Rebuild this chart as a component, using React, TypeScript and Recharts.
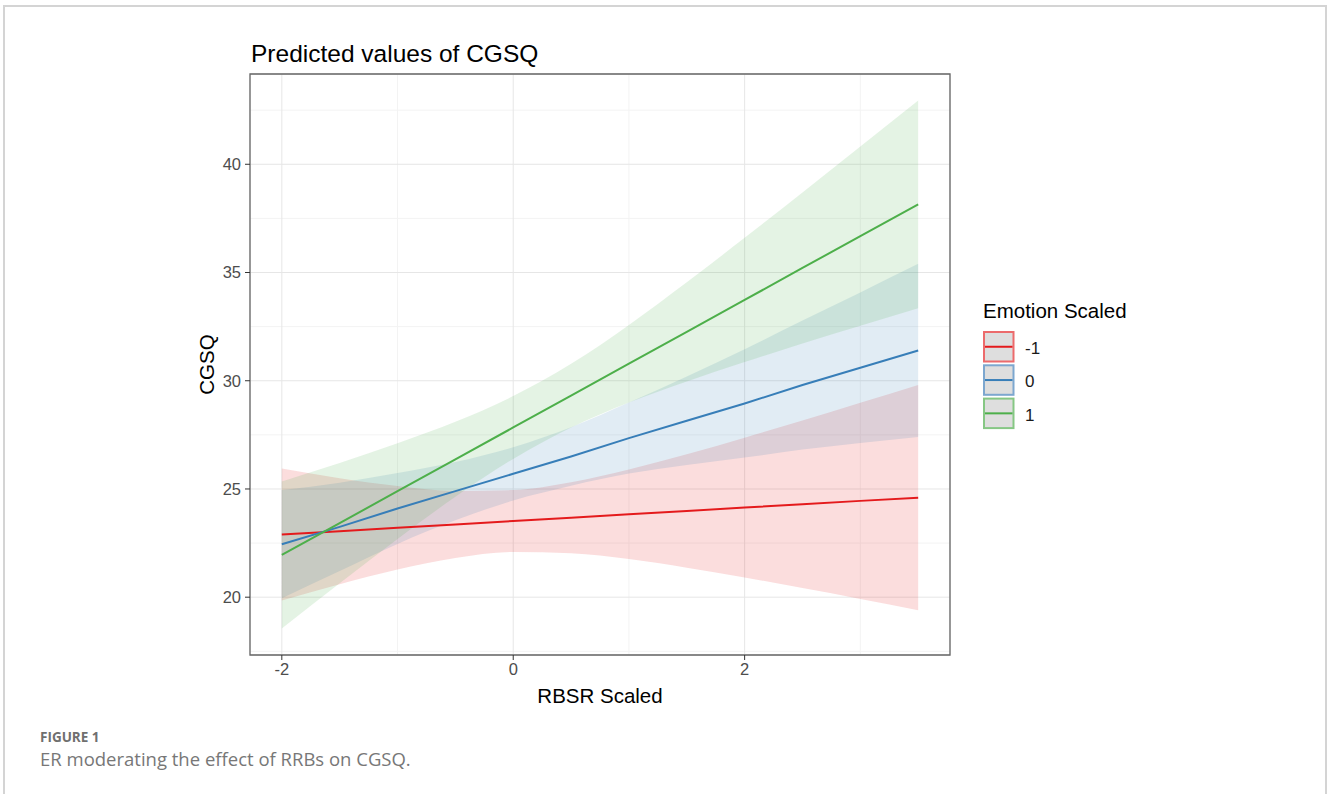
import {
  Area,
  CartesianGrid,
  ComposedChart,
  Line,
  ReferenceArea,
  XAxis,
  YAxis,
} from "recharts";

const rbsr = [-2, -1.5, -1, -0.5, 0, 0.5, 1, 1.5, 2, 2.5, 3, 3.5];

// Emotion Scaled = -1
const negFit = [22.9, 23.05, 23.21, 23.36, 23.52, 23.67, 23.83, 23.98, 24.14, 24.29, 24.45, 24.6];
const negLow = [19.85, 20.6, 21.28, 21.81, 22.09, 22.03, 21.76, 21.36, 20.91, 20.42, 19.92, 19.4];
const negHigh = [25.95, 25.5, 25.14, 24.91, 24.95, 25.31, 25.9, 26.6, 27.37, 28.16, 28.98, 29.8];

// Emotion Scaled = 0
const zeroFit = [22.45, 23.25, 24.1, 24.9, 25.7, 26.5, 27.35, 28.15, 28.95, 29.8, 30.6, 31.4];
const zeroLow = [19.95, 21.21, 22.46, 23.55, 24.47, 25.15, 25.71, 26.11, 26.45, 26.82, 27.12, 27.4];
const zeroHigh = [24.95, 25.29, 25.74, 26.25, 26.93, 27.85, 28.99, 30.19, 31.45, 32.78, 34.08, 35.4];

// Emotion Scaled = 1
const posFit = [21.95, 23.42, 24.9, 26.37, 27.84, 29.31, 30.79, 32.26, 33.73, 35.21, 36.68, 38.15];
const posLow = [18.55, 20.64, 22.69, 24.64, 26.39, 27.84, 29.0, 29.97, 30.86, 31.72, 32.54, 33.35];
const posHigh = [25.35, 26.2, 27.11, 28.1, 29.29, 30.78, 32.58, 34.55, 36.6, 38.7, 40.82, 42.95];

const xTicks = [-2, 0, 2];
const xMinor = [-1, 1, 3];
const yTicks = [20, 25, 30, 35, 40];
const yMinor = [17.5, 22.5, 27.5, 32.5, 37.5, 42.5];
const xDomain = [-2.275, 3.775];
const yDomain = [17.33, 44.17];

const legendLabels = ["-1", "0", "1"];

const groups = [
  { key: "neg", color: "#E41A1C", soft: "#EC6B6C", fit: negFit, low: negLow, high: negHigh },
  { key: "zero", color: "#377EB8", soft: "#7DA7CF", fit: zeroFit, low: zeroLow, high: zeroHigh },
  { key: "pos", color: "#4DAF4A", soft: "#86C784", fit: posFit, low: posLow, high: posHigh },
];

const rows = rbsr.map((x, i) => {
  const row: Record<string, number | number[]> = { x };
  groups.forEach((g) => {
    row[g.key + "Fit"] = g.fit[i];
    row[g.key + "Band"] = [g.low[i], g.high[i]];
  });
  return row;
});

const chartFont = "'Liberation Sans', Arial, sans-serif";
const captionFont = "'Open Sans', 'Noto Sans', sans-serif";
const tickStyle = { fill: "#4D4D4D", fontSize: 16.5, fontFamily: chartFont };

export default function App() {
  return (
    <div
      style={{
        position: "absolute",
        left: 0,
        top: 0,
        width: 1328,
        height: 794,
        overflow: "hidden",
        background: "#fff",
      }}
    >
      <div
        style={{
          position: "absolute",
          left: 3,
          top: 5,
          width: 1324,
          height: 900,
          boxSizing: "border-box",
          border: "2px solid #d4d4d4",
        }}
      />

      <div style={{ position: "absolute", left: 0, top: 0 }}>
        <ComposedChart
          width={1328}
          height={794}
          data={rows}
          margin={{ top: 74, right: 378, bottom: 99, left: 200 }}
        >
          <CartesianGrid stroke="#F3F3F3" horizontalValues={yMinor} verticalValues={xMinor} />
          <CartesianGrid stroke="#E6E6E6" />
          <XAxis
            type="number"
            dataKey="x"
            domain={xDomain}
            allowDataOverflow
            ticks={xTicks}
            height={40}
            axisLine={false}
            tickSize={5}
            tickMargin={3}
            tickLine={{ stroke: "#333" }}
            tick={tickStyle}
          />
          <YAxis
            type="number"
            domain={yDomain}
            allowDataOverflow
            ticks={yTicks}
            width={50}
            axisLine={false}
            tickSize={5}
            tickMargin={4}
            tickLine={{ stroke: "#333" }}
            tick={tickStyle}
          />
          {groups.map((g) => (
            <Area
              key={g.key + "-band"}
              type="monotone"
              dataKey={g.key + "Band"}
              stroke="none"
              fill={g.color}
              fillOpacity={0.15}
              isAnimationActive={false}
            />
          ))}
          {groups.map((g) => (
            <Line
              key={g.key + "-fit"}
              type="linear"
              dataKey={g.key + "Fit"}
              stroke={g.color}
              strokeWidth={2}
              dot={false}
              activeDot={false}
              isAnimationActive={false}
            />
          ))}
          <ReferenceArea
            x1={xDomain[0]}
            x2={xDomain[1]}
            y1={yDomain[0]}
            y2={yDomain[1]}
            fill="none"
            stroke="#666"
            strokeWidth={1.3}
          />
        </ComposedChart>
      </div>

      <svg
        width={1328}
        height={794}
        style={{ position: "absolute", left: 0, top: 0, pointerEvents: "none" }}
      >
        <text x={251} y={61.5} fontFamily={chartFont} fontSize={24.5} fill="#000">
          Predicted values of CGSQ
        </text>
        <text
          x={600}
          y={703}
          textAnchor="middle"
          fontFamily={chartFont}
          fontSize={20.5}
          fill="#000"
        >
          RBSR Scaled
        </text>
        <text
          x={213.5}
          y={364.5}
          transform="rotate(-90 213.5 364.5)"
          textAnchor="middle"
          fontFamily={chartFont}
          fontSize={20.5}
          fill="#000"
        >
          CGSQ
        </text>

        {/* Legend */}
        <text x={983} y={318} fontFamily={chartFont} fontSize={20.5} fill="#000">
          Emotion Scaled
        </text>
        {groups.map((g, i) => {
          const top = 331 + i * 33.3;
          return (
            <g key={g.key + "-key"}>
              <rect
                x={984}
                y={top + 1}
                width={29.5}
                height={29.5}
                fill="#DEDEDE"
                stroke={g.soft}
                strokeWidth={2}
              />
              <line
                x1={985}
                x2={1012.5}
                y1={top + 15.75}
                y2={top + 15.75}
                stroke={g.color}
                strokeWidth={2}
              />
              <text x={1025} y={top + 23} fontFamily={chartFont} fontSize={17} fill="#1A1A1A">
                {legendLabels[i]}
              </text>
            </g>
          );
        })}

        {/* Caption */}
        <text
          x={40}
          y={741.5}
          fontFamily={captionFont}
          fontWeight={700}
          fontSize={13.5}
          fill="#6F6F6F"
        >
          FIGURE 1
        </text>
        <text x={40} y={766} fontFamily={captionFont} fontSize={18.5} fill="#777">
          ER moderating the effect of RRBs on CGSQ.
        </text>
      </svg>
    </div>
  );
}
